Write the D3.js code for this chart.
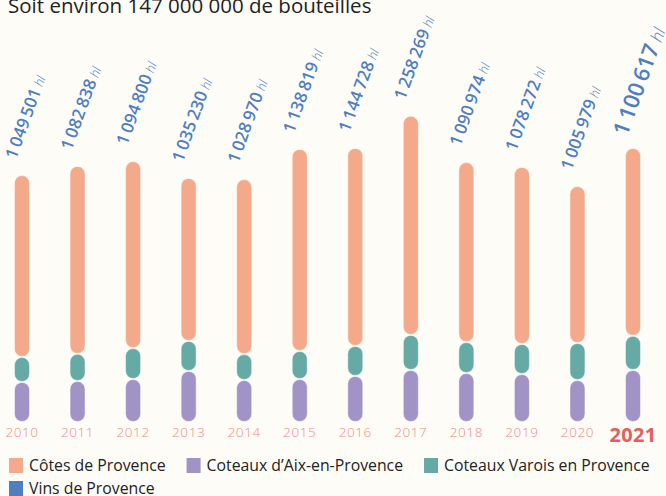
<!DOCTYPE html>
<meta charset="utf-8">
<style>
  body { margin: 0; background: #fdfcf7; }
  svg { display: block; font-family: "Open Sans", "DejaVu Sans", sans-serif; }
</style>
<body>
<script src="https://cdnjs.cloudflare.com/ajax/libs/d3/7.8.5/d3.min.js"></script>
<script>
  // years on the axis
  var years = ["2010", "2011", "2012", "2013", "2014", "2015", "2016", "2017", "2018", "2019", "2020", "2021"];
  // volumes per appellation (hl)
  var cotesProvence = [758000, 783000, 779000, 679000, 729000, 842000, 825000, 913000, 750000, 738000, 654000, 783000];
  var coteauxVarois = [104000, 113000, 129000, 125000, 108000, 117000, 125000, 146000, 129000, 125000, 154000, 142000];
  var coteauxAix = [167000, 171000, 179000, 213000, 175000, 179000, 192000, 217000, 204000, 200000, 175000, 217000];
  // total labels shown above bars
  var totals = ["1 049 501", "1 082 838", "1 094 800", "1 035 230", "1 028 970", "1 138 819", "1 144 728", "1 258 269", "1 090 974", "1 078 272", "1 005 979", "1 100 617"];
  var legendNames = ["Côtes de Provence", "Coteaux d’Aix-en-Provence", "Coteaux Varois en Provence", "Vins de Provence"];

  var W = 666, H = 496;
  var colors = {
    "Côtes de Provence": "#f4a98a",
    "Coteaux d’Aix-en-Provence": "#a193c5",
    "Coteaux Varois en Provence": "#65aaa4",
    "Vins de Provence": "#4f7fc2"
  };

  var svg = d3.select("body").append("svg").attr("width", W).attr("height", H);

  svg.append("text")
    .attr("x", 8).attr("y", 13)
    .attr("font-size", 20.5)
    .attr("fill", "#222")
    .text("Soit environ 147 000 000 de bouteilles");

  var rows = years.map(function(y, i) {
    return {
      year: y,
      "Coteaux d’Aix-en-Provence": coteauxAix[i],
      "Coteaux Varois en Provence": coteauxVarois[i],
      "Côtes de Provence": cotesProvence[i],
      total: totals[i]
    };
  });

  var keys = ["Coteaux d’Aix-en-Provence", "Coteaux Varois en Provence", "Côtes de Provence"];
  var series = d3.stack().keys(keys)(rows);

  var x = d3.scalePoint().domain(years).range([22, 633]);
  var y = d3.scaleLinear().domain([0, 1300000]).range([422, 110]);
  var bw = 15;

  var g = svg.append("g");
  g.selectAll("g.serie")
    .data(series)
    .join("g")
    .attr("fill", function(s) { return colors[s.key]; })
    .selectAll("rect")
    .data(function(s) { return s; })
    .join("rect")
    .attr("x", function(d) { return x(d.data.year) - bw / 2; })
    .attr("y", function(d) { return y(d[1]) + 0.5; })
    .attr("width", bw)
    .attr("height", function(d) { return Math.max(0, y(d[0]) - y(d[1]) - 1); })
    .attr("rx", bw / 2)
    .attr("stroke", "#fff")
    .attr("stroke-opacity", 0.6)
    .attr("stroke-width", 0.8);

  // year labels
  svg.selectAll("text.year")
    .data(years)
    .join("text")
    .attr("class", "year")
    .attr("x", function(d) { return x(d); })
    .attr("y", function(d) { return d === "2021" ? 442 : 437; })
    .attr("text-anchor", "middle")
    .attr("font-size", function(d) { return d === "2021" ? 20 : 13.5; })
    .attr("font-weight", function(d) { return d === "2021" ? 700 : 300; })
    .attr("letter-spacing", function(d) { return d === "2021" ? 0.3 : 0.6; })
    .attr("fill", function(d) { return d === "2021" ? "#e85c5c" : "#f08a8a"; })
    .text(function(d) { return d; });

  // totals, rotated
  var lab = svg.selectAll("text.total")
    .data(rows)
    .join("text")
    .attr("class", "total")
    .attr("fill", colors["Vins de Provence"])
    .attr("transform", function(d) {
      var big = d.year === "2021";
      var top = y(d["Côtes de Provence"] + d["Coteaux Varois en Provence"] + d["Coteaux d’Aix-en-Provence"]);
      var px = x(d.year) - (big ? 6 : 6);
      var py = top - (big ? 11 : 15);
      return "translate(" + px + "," + py + ") rotate(-70)";
    });
  lab.append("tspan")
    .attr("font-size", function(d) { return d.year === "2021" ? 22 : 17; })
    .attr("font-weight", 600)
    .text(function(d) { return d.total.replace(/ /g, "\u2009"); });
  lab.append("tspan")
    .attr("font-size", function(d) { return d.year === "2021" ? 17 : 13; })
    .attr("font-style", "italic")
    .attr("font-weight", 300)
    .text(" hl");

  // legend, flowing onto a second line
  var lx = 9, ly = 458;
  legendNames.forEach(function(name) {
    var item = svg.append("g");
    item.append("rect").attr("width", 14).attr("height", 15).attr("fill", colors[name]);
    var t = item.append("text").attr("x", 20).attr("y", 13)
      .attr("font-size", 15.8).attr("fill", "#222").text(name);
    var w = 20 + t.node().getComputedTextLength();
    if (lx + w > W) { lx = 9; ly += 23; }
    item.attr("transform", "translate(" + lx + "," + ly + ")");
    lx += w + 21;
  });
</script>
</body>
